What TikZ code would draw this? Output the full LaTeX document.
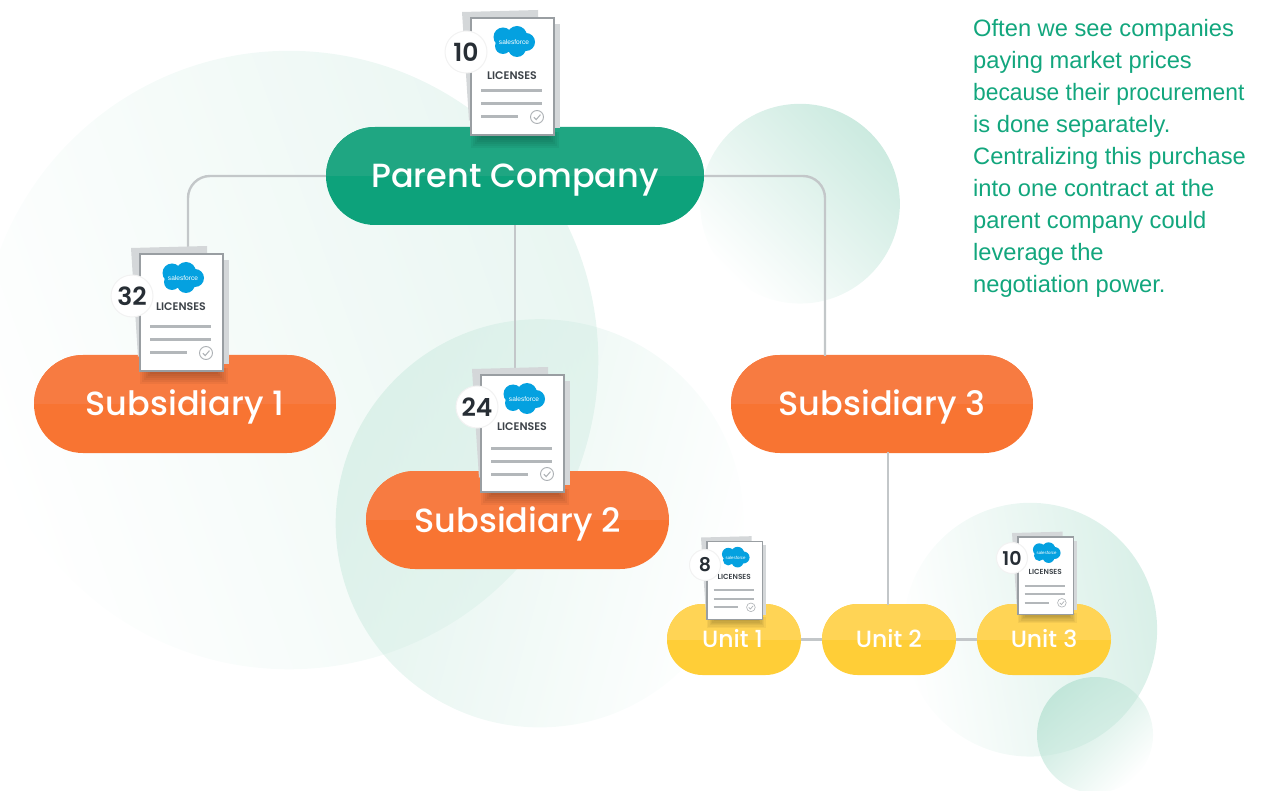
\documentclass[tikz,border=0pt]{standalone}
\usepackage{fontspec}
\setmainfont{Poppins}[BoldFont={Poppins SemiBold}]
\newfontfamily\pillfont{Poppins Medium}
\newfontfamily\bodyfont{Liberation Sans}
\usetikzlibrary{shapes.misc,fadings,calc}
\definecolor{greenTop}{HTML}{1FA682}
\definecolor{greenBot}{HTML}{0DA27B}
\definecolor{orangeTop}{HTML}{F77B41}
\definecolor{orangeBot}{HTML}{F87432}
\definecolor{yellowTop}{HTML}{FFD455}
\definecolor{yellowBot}{HTML}{FFCE37}
\definecolor{lineGrey}{HTML}{C3C7C9}
\definecolor{sheetGrey}{HTML}{D4D7D9}
\definecolor{edgeGrey}{HTML}{999EA2}
\definecolor{rowGrey}{HTML}{B3B7BA}
\definecolor{inkDark}{HTML}{272E35}
\definecolor{sfBlue}{HTML}{04A1E0}
\definecolor{noteGreen}{HTML}{12A67D}
\definecolor{blobGreen}{HTML}{BFE5D8}
\tikzfading[name=fadeoff,left color=transparent!0,middle color=transparent!94,right color=transparent!100]
\tikzset{
  pillbase/.style={rounded rectangle,inner sep=0pt,text=white,align=center},
  bigpill/.style={pillbase,minimum height=98pt,font=\pillfont\fontsize{33.5}{40}\selectfont,text height=30pt,text depth=6pt},
  smallpill/.style={pillbase,minimum width=134pt,minimum height=71pt,font=\pillfont\fontsize{23.5}{28}\selectfont,text height=20pt,text depth=4pt},
  twotone/.style n args={2}{fill=#2,path picture={\fill[#1] (path picture bounding box.north west) rectangle (path picture bounding box.east);}},
  connector/.style={draw=lineGrey,line width=2.4pt,rounded corners=22pt},
  backsheet/.style={fill=sheetGrey},
  lictext/.style={font=\fontsize{11}{12}\selectfont\bfseries,text=inkDark!90,inner sep=0pt},
  sftext/.style={font=\bodyfont\fontsize{6.6}{7}\selectfont,text=white,inner sep=0pt},
  countcircle/.style={circle,fill=white,draw=black!5,line width=1pt,inner sep=0pt,text=inkDark},
  blob/.style={fill=blobGreen},
}
% name, x, y of sheet corner, scale, LICENSES y
\newcommand{\licensedoc}[5]{%
\begin{scope}[shift={(#2,#3)},scale=#4,transform shape]
  \foreach \ins in {0,2,4,6,8,10}{\fill[black,opacity=.045] (\ins,114) rectangle (88-\ins,130-\ins);}
  \fill[backsheet] (-9,-6) -- (67,-8) -- (68,20) -- (-2,103) -- cycle;
  \fill[backsheet] (80,6) rectangle (88.5,110);
  \draw[fill=white,draw=edgeGrey,line width=1.6pt*#4] (0,0) rectangle (83,117);
  \begin{scope}[shift={(43,24)}]
    \fill[sfBlue] (-11,-5) circle (9.5) (3,-6) circle (10) (12,0) circle (9) (3,6) circle (9) (-11,4) circle (8) (-3,1) circle (9);
  \end{scope}
  \node[sftext] (#1sf) at (43,24) {salesforce};
  \node[lictext] (#1lic) at (41,#5) {LICENSES};
  \draw[draw=rowGrey,line width=3pt*#4] (10,73) -- (71,73) (10,86) -- (71,86) (10,99) -- (47,99);
  \draw[edgeGrey!80,line width=.9pt*#4] (66,99) circle (6.5);
  \draw[edgeGrey!80,line width=1pt*#4] (62.8,99.2) -- (65.2,101.6) -- (69.5,96.6);
\end{scope}}
\begin{document}
\begin{tikzpicture}[x=1pt,y=-1pt]
\useasboundingbox (0,0) rectangle (1280,791);
% background blobs
\fill[blob,opacity=.34,path fading=fadeoff,fading angle=200] (288,362) circle (310);
\fill[blob,opacity=.45,path fading=fadeoff,fading angle=-15] (542,522) circle (205);
\fill[blob,opacity=.8,path fading=fadeoff,fading angle=225] (800,204) circle (100);
\fill[blob,opacity=.6,path fading=fadeoff,fading angle=190] (1030,630) circle (127);
\fill[blob,opacity=.95,path fading=fadeoff,fading angle=-45] (1095,735) circle (58);
% nodes
\node[bigpill,twotone={greenTop}{greenBot},minimum width=378pt] (parent) at (515,176) {Parent Company};
\node[bigpill,twotone={orangeTop}{orangeBot},minimum width=302pt] (sub1) at (185,404) {Subsidiary 1};
\node[bigpill,twotone={orangeTop}{orangeBot},minimum width=303pt] (sub2) at (517.5,520) {Subsidiary 2};
\node[bigpill,twotone={orangeTop}{orangeBot},minimum width=302pt] (sub3) at (882,404) {Subsidiary 3};
\node[smallpill,twotone={yellowTop}{yellowBot}] (unit1) at (734,639.5) {Unit 1\hspace{3pt}};
\node[smallpill,twotone={yellowTop}{yellowBot}] (unit2) at (889,639.5) {Unit 2};
\node[smallpill,twotone={yellowTop}{yellowBot}] (unit3) at (1044,639.5) {Unit 3};
% connectors
\coordinate (s1top) at (188,356);
\coordinate (s3top) at (825,356);
\coordinate (s2top) at (515,472);
\coordinate (u2top) at (888,605);
\coordinate (s3bot) at (888,452);
\draw[connector] (parent.west) -| (s1top);
\draw[connector] (parent.east) -| (s3top);
\draw[connector] (parent.south) -- (s2top);
\draw[connector] (s3bot) -- (u2top);
\draw[connector] (unit1.east) -- (unit2.west);
\draw[connector] (unit2.east) -- (unit3.west);
% licence sheets
\licensedoc{pa}{471}{18}{1}{58}
\licensedoc{sa}{140}{254}{1}{53}
\licensedoc{sb}{481}{375}{1}{52}
\licensedoc{ua}{707}{541.5}{.665}{53}
\licensedoc{uc}{1018}{537}{.665}{53}
% counts
\node[countcircle,minimum size=42pt,font=\fontsize{25}{28}\selectfont\bfseries] (npa) at (466,52) {10};
\node[countcircle,minimum size=42pt,font=\fontsize{25}{28}\selectfont\bfseries] (nsa) at (132,296) {32};
\node[countcircle,minimum size=42pt,font=\fontsize{25}{28}\selectfont\bfseries] (nsb) at (477,407) {24};
\node[countcircle,minimum size=31pt,font=\fontsize{19}{22}\selectfont\bfseries] (nua) at (705,565) {8};
\node[countcircle,minimum size=31pt,font=\fontsize{19}{22}\selectfont\bfseries] (nuc) at (1012,558) {10};
% note
\node[anchor=north west,inner sep=0pt,align=left,text=noteGreen,font=\bodyfont\fontsize{23.7}{32}\selectfont] (note) at (973,19) {Often we see companies\\paying market prices\\\scalebox{.962}[1]{because their procurement}\\is done separately.\\Centralizing this purchase\\into one contract at the\\parent company could\\leverage the\\negotiation power.};
\end{tikzpicture}
\end{document}
